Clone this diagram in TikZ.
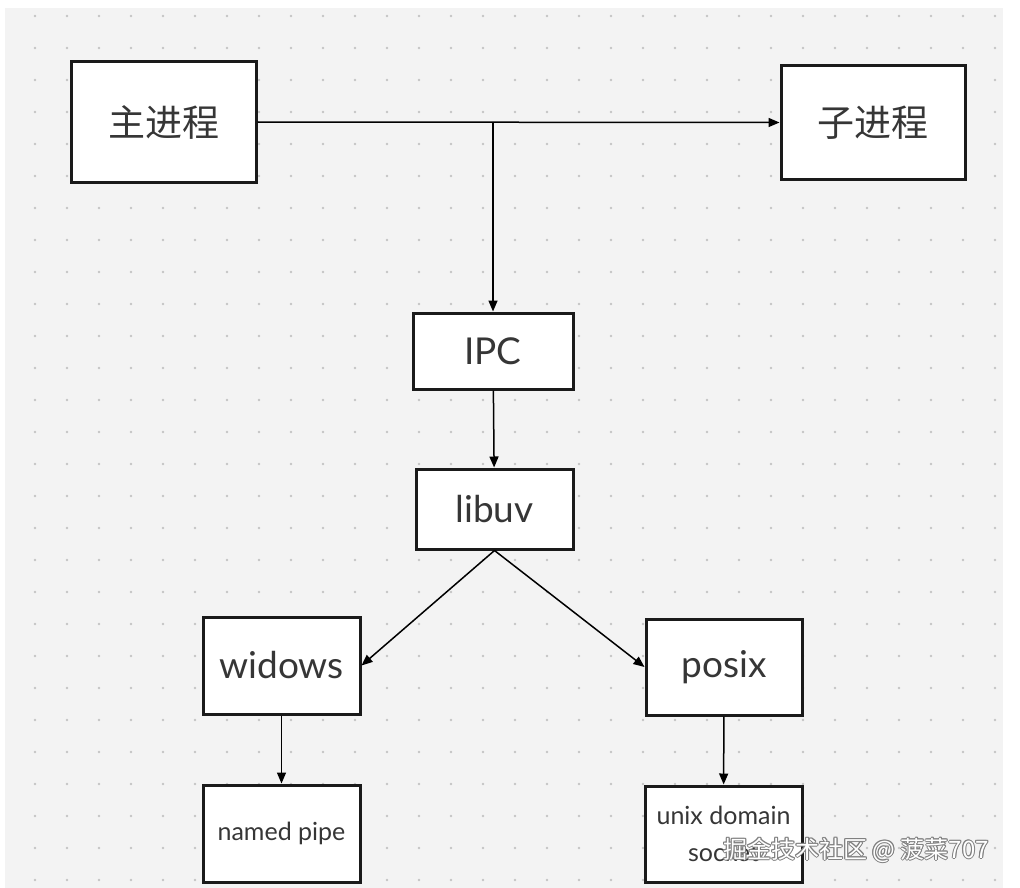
\documentclass[tikz,border=0pt]{standalone}
\usepackage{fontspec}
\setmainfont{Lato}
\newfontfamily\cjk{Noto Sans CJK SC}
\usepackage{xcolor}
\usetikzlibrary{arrows.meta,positioning}
\definecolor{bggray}{HTML}{F3F3F3}
\definecolor{dotgray}{HTML}{C4C4C4}
\definecolor{txtgray}{HTML}{363636}
\definecolor{boxline}{HTML}{1A1A1A}
\tikzset{
  box/.style={draw=boxline,fill=white,line width=3pt,inner sep=0pt,text=txtgray,font=\fontsize{37}{44}\selectfont},
  smallbox/.style={box,font=\fontsize{25}{37}\selectfont,align=center},
  conn/.style={line width=1.5pt,draw=black,-{Triangle[length=11pt,width=9pt]}},
  wm/.style={font=\cjk\fontsize{24}{28}\selectfont,inner sep=0pt}
}

\begin{document}
\begin{tikzpicture}[x=1pt,y=-1pt]
                \useasboundingbox (0,0) rectangle (1020,888);
                \fill[white] (0,0) rectangle (1020,888);
                \fill[bggray] (5,8) rectangle (1003,888);
                \foreach \x in {35,67,...,1003}
                  \foreach \y in {16,48,...,880}
                    \fill[dotgray] (\x,\y) circle (1.3);
                \node[box,minimum width=185pt,minimum height=120pt] (main) at (163.5,122) {\cjk 主进程};
                \node[box,minimum width=184pt,minimum height=113pt] (child) at (873,122.5) {\cjk 子进程};
                \node[box,minimum width=160pt,minimum height=76pt] (ipc) at (493,351) {IPC};
                \node[box,minimum width=157pt,minimum height=80pt] (libuv) at (494.5,509) {libuv};
                \node[box,minimum width=157pt,minimum height=97pt] (win) at (281.5,665.5) {widows};
                \node[box,minimum width=156pt,minimum height=96pt] (posix) at (724,667) {posix};
                \node[smallbox,minimum width=157pt,minimum height=97pt] (pipe) at (281.5,833.5) {named pipe};
                \node[smallbox,minimum width=157pt,minimum height=96pt] (sock) at (723.5,834) {unix domain\\socket};
                \coordinate (split) at (ipc.north |- main.east);
                \draw[conn] (main.east) -- (child.west);
                \draw[conn] (split) -- (ipc.north);
                \draw[conn] (ipc) -- (libuv);
                \draw[conn] (libuv.south) -- (win.east);
                \draw[conn] (libuv.south) -- (posix.west);
                \draw[conn] (win) -- (pipe);
                \draw[conn] (posix) -- (sock);
                % watermark
                \foreach \dx/\dy [count=\i] in {-1/0,1/0,0/-1,0/1,-.7/-.7,.7/.7,-.7/.7,.7/-.7}
                  \node[wm,text=gray] (wm\i) at (856+\dx,850+\dy) {掘金技术社区 @ 菠菜707};
                \node[wm,text=white] (wm) at (856,850) {掘金技术社区 @ 菠菜707};
              \end{tikzpicture}
\end{document}
